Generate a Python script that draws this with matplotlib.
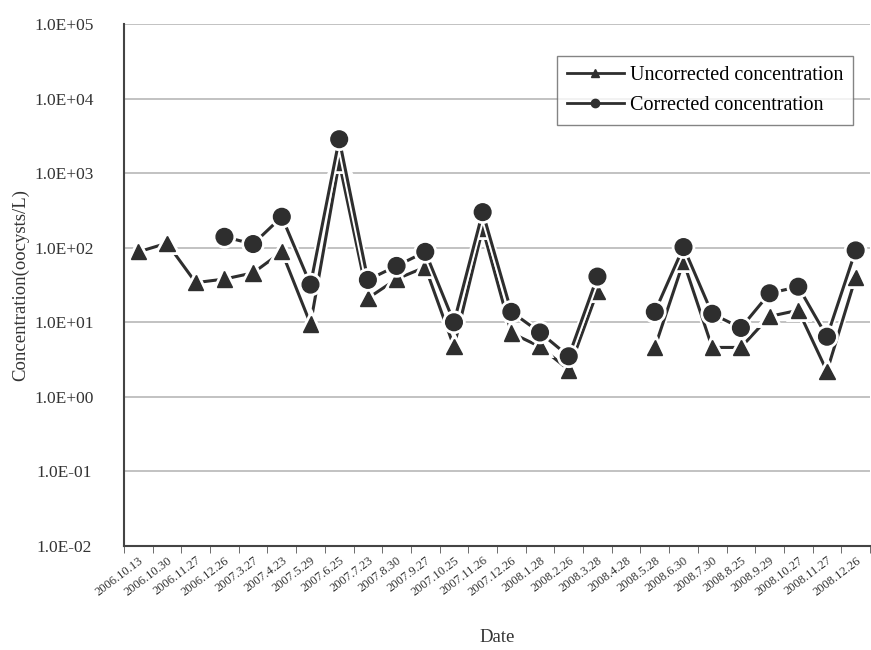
import numpy as np
import matplotlib
matplotlib.use("Agg")
import matplotlib.pyplot as plt
import matplotlib.patheffects as pe
from matplotlib.ticker import FixedLocator, FuncFormatter

plt.rcParams['font.family'] = ['Liberation Serif', 'DejaVu Serif']

dates = ["2006.10.13", "2006.10.30", "2006.11.27", "2006.12.26", "2007.3.27",
         "2007.4.23", "2007.5.29", "2007.6.25", "2007.7.23", "2007.8.30",
         "2007.9.27", "2007.10.25", "2007.11.26", "2007.12.26", "2008.1.28",
         "2008.2.26", "2008.3.28", "2008.4.28", "2008.5.28", "2008.6.30",
         "2008.7.30", "2008.8.25", "2008.9.29", "2008.10.27", "2008.11.27",
         "2008.12.26"]

nan = np.nan
uncorrected = [88, 115, 34, 38, 46, 88, 9.5, 1400, 21, 38, 55, 4.7, 180, 7.2,
               4.7, 2.3, 26, nan, 4.6, 65, 4.6, 4.6, 12, 14.5, 2.2, 40]
corrected = [nan, nan, nan, 140, 112, 260, 32, 2850, 37, 57, 88, 10, 300, 13.8,
             7.3, 3.5, 41, nan, 13.8, 102, 13, 8.4, 24.5, 30, 6.4, 92]

y_ticks = [1e-2, 1e-1, 1e0, 1e1, 1e2, 1e3, 1e4, 1e5]

fig = plt.figure(figsize=(8.71, 6.5), dpi=100)
ax = fig.add_axes([124 / 871, 1 - 546 / 650, 746 / 871, 522 / 650])

x = np.arange(len(dates))
line_color = '#2e2e2e'
outline = [pe.Stroke(linewidth=5, foreground='white'), pe.Normal()]

ax.plot(x, uncorrected, color=line_color, lw=2.2, marker='^', ms=11,
        mfc=line_color, mec=line_color, path_effects=outline, zorder=3,
        label='Uncorrected concentration')
ax.plot(x, corrected, color=line_color, lw=2.2, marker='o', ms=12,
        mfc=line_color, mec=line_color, path_effects=outline, zorder=4,
        label='Corrected concentration')

ax.set_yscale('log')
ax.set_ylim(1e-2, 1e5)
ax.set_xlim(-0.5, len(dates) - 0.5)
ax.yaxis.set_major_locator(FixedLocator(y_ticks))
ax.yaxis.set_minor_locator(FixedLocator([]))
ax.yaxis.set_major_formatter(FuncFormatter(
    lambda v, p: "1.0E{:+03d}".format(int(round(np.log10(v))))))
ax.tick_params(axis='y', length=0, labelsize=12.5, pad=43, colors='#333333')
for lab in ax.get_yticklabels():
    lab.set_horizontalalignment('center')

# category labels at centres, tick marks on boundaries
ax.set_xticks(x)
ax.set_xticklabels(dates, rotation=37, ha='right', va='top',
                   rotation_mode='anchor', fontsize=9, color='#333333')
ax.tick_params(axis='x', which='major', length=0, pad=6)
ax.set_xticks(np.arange(len(dates) + 1) - 0.5, minor=True)
ax.tick_params(axis='x', which='minor', length=5, direction='out',
               color='#555555')

ax.grid(axis='y', which='major', color='#b8b8b8', lw=1.2)
ax.set_axisbelow(True)
for s in ['top', 'right']:
    ax.spines[s].set_visible(False)
for s in ['left', 'bottom']:
    ax.spines[s].set_color('#444444')
    ax.spines[s].set_linewidth(1.5)

ax.set_ylabel('Concentration(oocysts/L)', fontsize=13.5, color='#333333',
              labelpad=4)
ax.set_xlabel('Date', fontsize=13.5, color='#333333', labelpad=22)

leg = ax.legend(loc='upper right', bbox_to_anchor=(853 / 871, 1 - 56 / 650),
                bbox_transform=fig.transFigure, fontsize=14.5, frameon=True,
                fancybox=False, edgecolor='#666666', markerscale=0.5,
                handlelength=2.8, borderpad=0.5, labelspacing=0.55,
                handletextpad=0.3, borderaxespad=0)
leg.get_frame().set_linewidth(1.0)
for h in leg.legend_handles:
    h.set_path_effects([])
    h.set_linewidth(2.0)

fig.savefig('out.png', dpi=100)
